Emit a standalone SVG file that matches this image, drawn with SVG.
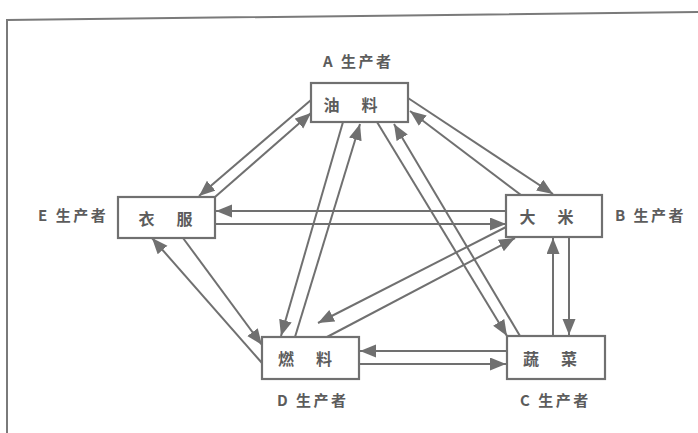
<svg xmlns="http://www.w3.org/2000/svg" width="698" height="433" viewBox="0 0 698 433">
<style>
.frame{fill:none;stroke:#7a7a7a;stroke-width:2}
.box{fill:#ffffff;stroke:#707070;stroke-width:2.2}
.lbl{font-family:"Noto Sans CJK SC","Noto Sans",sans-serif;font-size:15px;font-weight:bold;fill:#5c5c5c;letter-spacing:2.5px}
.nm{font-family:"Noto Sans CJK SC","Noto Sans",sans-serif;font-size:16px;font-weight:bold;fill:#5c5c5c;letter-spacing:3px}
.c line{stroke:#707070;stroke-width:2;marker-end:url(#ah)}
</style>
<defs>
<marker id="ah" markerUnits="userSpaceOnUse" markerWidth="17" markerHeight="14" refX="16" refY="6.5" orient="auto">
<path d="M0,0 L16,6.5 L0,13 Z" fill="#707070"/>
</marker>
</defs>
<rect width="698" height="433" fill="#ffffff"/>
<path class="frame" d="M7,433 L7,20 L698,12"/>
<g id="connectors" class="c">
<line x1="311" y1="100" x2="199" y2="196"/>
<line x1="215" y1="197" x2="311" y2="113"/>
<line x1="408" y1="98" x2="553" y2="194"/>
<line x1="521" y1="195" x2="410" y2="111"/>
<line x1="506" y1="211" x2="216" y2="211"/>
<line x1="215" y1="224" x2="506" y2="224"/>
<line x1="262" y1="363" x2="152" y2="238"/>
<line x1="183" y1="238" x2="262" y2="345"/>
<line x1="343" y1="122" x2="281" y2="336"/>
<line x1="295" y1="337" x2="360" y2="124"/>
<line x1="377" y1="122" x2="507" y2="336"/>
<line x1="520" y1="336" x2="394" y2="124"/>
<line x1="508" y1="226" x2="318" y2="323"/>
<line x1="327" y1="337" x2="515" y2="238"/>
<line x1="553" y1="336" x2="553" y2="238"/>
<line x1="569" y1="237" x2="569" y2="335"/>
<line x1="507" y1="351" x2="360" y2="351"/>
<line x1="359" y1="364" x2="506" y2="364"/>
</g>
<g id="nodeA">
<rect class="box" x="311" y="83" width="97" height="39"/>
<text class="nm" x="323.5" y="111">油　料</text>
<text class="lbl" x="323" y="67">A 生产者</text>
</g>
<g id="nodeE">
<rect class="box" x="118" y="197" width="97" height="41"/>
<text class="nm" x="138.5" y="225">衣　服</text>
<text class="lbl" x="38" y="221">E 生产者</text>
</g>
<g id="nodeB">
<rect class="box" x="506" y="195" width="96" height="42"/>
<text class="nm" x="519.5" y="223">大　米</text>
<text class="lbl" x="615" y="221">B 生产者</text>
</g>
<g id="nodeD">
<rect class="box" x="262" y="337" width="97" height="42"/>
<text class="nm" x="278" y="365">燃　料</text>
<text class="lbl" x="277" y="406">D 生产者</text>
</g>
<g id="nodeC">
<rect class="box" x="507" y="336" width="98" height="43"/>
<text class="nm" x="523" y="365">蔬　菜</text>
<text class="lbl" x="520" y="406">C 生产者</text>
</g>
</svg>
